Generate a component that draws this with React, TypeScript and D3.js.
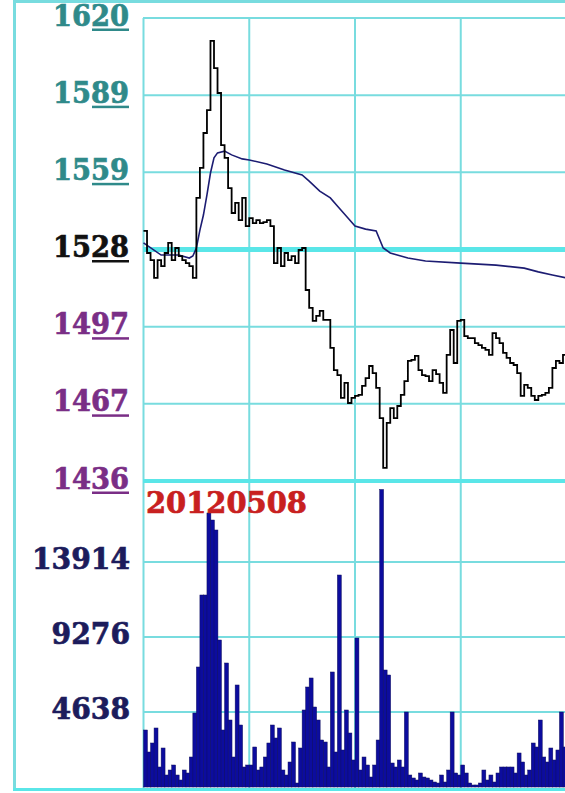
import React from "react";
import * as d3 from "d3";

// ---- data ----
const priceTicks = [1620, 1589.33, 1558.67, 1528, 1497.33, 1466.67, 1436];
const refPrice = 1528;
const volumeTicks = [13914, 9276, 4638];
const volumeMax = 18552;
const dateLabel = "20120508";
const sessionSlots = 120; // 2-minute slots in the trading day

// price every 2 minutes (slot 0..120)
const price = [
  1535.4, 1526.6, 1523.8, 1516.7, 1523.8, 1521.4, 1526.6, 1530.6, 1523.8, 1528.6,
  1525.4, 1523.8, 1522.6, 1521.4, 1516.7, 1548.5, 1560.4, 1574.3, 1583.4, 1610.9,
  1600.1, 1590.2, 1569.5, 1564.4, 1552.4, 1542.5, 1546.5, 1539.7, 1548.5, 1537.3,
  1540.5, 1538.5, 1539.7, 1538.5, 1538.9, 1539.7, 1537.3, 1522.6, 1528.6, 1521.4,
  1526.6, 1523.8, 1525.4, 1522.6, 1527.8, 1528.6, 1511.9, 1504.8, 1499.6, 1501.6,
  1503.6, 1500.0, 1500.0, 1488.9, 1480.1, 1478.1, 1469.0, 1475.0, 1467.0, 1469.0,
  1469.8, 1470.2, 1473.8, 1476.9, 1481.7, 1478.9, 1473.0, 1461.0, 1441.2, 1459.1,
  1465.0, 1461.0, 1465.8, 1470.2, 1475.7, 1483.7, 1484.1, 1485.7, 1480.1, 1478.1,
  1477.7, 1475.7, 1480.1, 1478.5, 1475.0, 1471.0, 1486.1, 1496.0, 1482.9, 1499.6,
  1500.0, 1493.6, 1492.8, 1492.8, 1490.8, 1490.0, 1488.9, 1488.1, 1486.1, 1494.8,
  1492.8, 1490.8, 1486.9, 1484.9, 1482.9, 1482.1, 1478.9, 1469.8, 1474.2, 1473.0,
  1469.8, 1468.2, 1469.8, 1470.2, 1471.0, 1473.0, 1480.9, 1483.7, 1482.9, 1486.1,
  1487.7,
];

// volume per 2-minute slot (slot 0..119)
const volume = [
  3525, 2164, 2721, 3649, 1237, 2412, 742, 1051, 1360, 742,
  433, 1051, 866, 1855, 4576, 7421, 11873, 11873, 16944, 16511,
  15893, 9090, 3525, 7668, 4143, 1855, 6308, 3834, 1237, 1360,
  1360, 2474, 1051, 1237, 1855, 2721, 3834, 3030, 3649, 1051,
  742, 1546, 2783, 247, 2412, 4762, 6184, 6741, 4947, 4143,
  2906, 2783, 1237, 7112, 2164, 13110, 2288, 4762, 3339, 1670,
  9214, 1051, 1855, 1360, 618, 1360, 2906, 18400, 7235, 6926,
  1484, 1237, 1670, 1237, 4638, 742, 557, 433, 866, 618,
  557, 433, 309, 247, 742, 309, 1051, 4638, 866, 742,
  1360, 866, 247, 124, 124, 247, 1051, 433, 742, 309,
  866, 1237, 1237, 1237, 1237, 866, 2103, 1546, 742, 1051,
  2721, 2474, 4143, 1855, 1546, 2412, 1670, 2288, 4638, 2474,
];

// average price line, read at selected slots
const avgSlot = [0, 5, 10, 13, 14, 15, 16, 17, 18, 19, 20, 21, 23, 25, 28, 30, 35, 40, 45, 47, 50, 53, 55, 58, 60, 63, 66, 68, 70, 75, 80, 90, 100, 108, 112, 116, 120];
const avgPrice = [1530.6, 1525.8, 1525.8, 1524.6, 1525.4, 1528.6, 1535.7, 1541.7, 1549.7, 1558.4, 1564.4, 1566.4, 1567.1, 1565.6, 1564.0, 1563.6, 1562.0, 1559.6, 1557.6, 1555.2, 1551.2, 1548.5, 1545.3, 1540.5, 1537.3, 1536.1, 1535.4, 1528.6, 1526.6, 1524.6, 1523.4, 1522.6, 1521.8, 1520.6, 1519.1, 1517.9, 1516.7];

const gridSlots = [0, 30, 60, 90, 120];

// ---- component ----
export default function App() {
  const W = 565;
  const H = 793;
  const x = d3.scaleLinear().domain([0, sessionSlots]).range([143.5, 566.5]);
  const yP = d3.scaleLinear().domain([1436, 1620]).range([481, 18]);
  const yV = d3.scaleLinear().domain([0, volumeMax]).range([787, 487]);
  const step = x(1) - x(0);

  const priceLine = d3
    .line<number>()
    .x((_, i) => x(i))
    .y((d) => yP(d))
    .curve(d3.curveStepAfter)(price) as string;

  const avgLine = d3
    .line<number>()
    .x((_, i) => x(avgSlot[i]))
    .y((d) => yP(d))(avgPrice) as string;

  const gridColor = "#78dcdf";
  const thickColor = "#5ae6e8";
  const fontFamily = "'DejaVu Serif', 'Liberation Serif', serif";
  const plotLeft = 144;
  const plotRight = 567;

  const priceColor = (t: number) =>
    Math.abs(t - refPrice) < 0.5 ? "#111111" : t > refPrice ? "#2f8a8a" : "#7a2e86";

  const labelProps = {
    fontFamily,
    fontWeight: "bold" as const,
    fontSize: 29,
    strokeWidth: 0.7,
    lengthAdjust: "spacingAndGlyphs",
  };

  return (
    <svg
      width={W}
      height={H}
      style={{ position: "absolute", left: 0, top: 0, background: "#ffffff" }}
    >
      <rect x={0} y={0} width={W} height={H} fill="#ffffff" />
      {/* outer frame */}
      <line x1={14.5} x2={14.5} y1={0} y2={791} stroke={gridColor} strokeWidth={3} />
      <line x1={13} x2={W} y1={1.5} y2={1.5} stroke={gridColor} strokeWidth={3} />
      <line x1={13} x2={W} y1={789.5} y2={789.5} stroke={thickColor} strokeWidth={3} />

      {/* vertical grid */}
      {gridSlots.map((s) => (
        <line key={"v" + s} x1={x(s)} x2={x(s)} y1={18} y2={788} stroke={gridColor} strokeWidth={2} />
      ))}

      {/* horizontal price grid */}
      {priceTicks.map((t, i) => {
        const isRef = Math.abs(t - refPrice) < 0.5;
        const isBottom = i === priceTicks.length - 1;
        return (
          <line
            key={"hp" + i}
            x1={plotLeft - 1}
            x2={plotRight}
            y1={yP(t)}
            y2={yP(t)}
            stroke={isRef || isBottom ? thickColor : gridColor}
            strokeWidth={isRef ? 5 : isBottom ? 4 : 2}
          />
        );
      })}

      {/* volume grid */}
      {volumeTicks.map((t) => (
        <line key={"hv" + t} x1={plotLeft - 1} x2={plotRight} y1={yV(t)} y2={yV(t)} stroke={gridColor} strokeWidth={2} />
      ))}

      {/* volume bars */}
      {volume.map((v, i) => (
        <rect
          key={"b" + i}
          x={x(i)}
          y={yV(v)}
          width={step + 0.4}
          height={yV(0) - yV(v)}
          fill="#0c0c9e"
          stroke="#12125e"
          strokeWidth={0.5}
        />
      ))}

      {/* price and average lines */}
      <path d={avgLine} fill="none" stroke="#1c1c72" strokeWidth={1.6} />
      <path d={priceLine} fill="none" stroke="#000000" strokeWidth={1.8} />

      {/* price labels */}
      {priceTicks.map((t, i) => {
        const yb = yP(t) + 7.5;
        const c = priceColor(t);
        return (
          <g key={"pl" + i}>
            <text x={129} y={yb} textAnchor="end" fill={c} stroke={c} textLength={76} {...labelProps}>
              {String(Math.round(t))}
            </text>
            <rect x={92} y={yb + 3} width={37} height={2.5} fill={c} />
          </g>
        );
      })}

      {/* volume labels */}
      {volumeTicks.map((t) => {
        const s = String(t);
        return (
          <text
            key={"vl" + t}
            x={130}
            y={yV(t) + 7}
            textAnchor="end"
            fill="#1c1c5c"
            stroke="#1c1c5c"
            textLength={s.length * 19.6}
            {...labelProps}
          >
            {s}
          </text>
        );
      })}

      {/* date label */}
      <text x={146} y={513} fill="#c82020" stroke="#c82020" textLength={161} {...labelProps}>
        {dateLabel}
      </text>
    </svg>
  );
}
